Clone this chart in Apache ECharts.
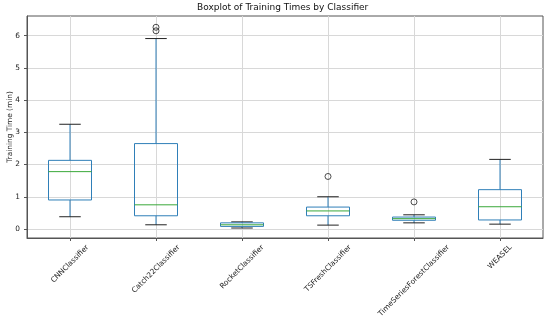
<!DOCTYPE html>
<html><head><meta charset="utf-8">
<script src="https://cdn.jsdelivr.net/npm/echarts@6/dist/echarts.min.js"></script>
<style>html,body{margin:0;padding:0;background:#fff}#c{width:550px;height:322px}</style>
</head><body><div id="c"></div>
<script>
const categories = ['CNNClassifier','Catch22Classifier','RocketClassifier','TSFreshClassifier','TimeSeriesForestClassifier','WEASEL'];
const whiskerLow  = [0.38, 0.13, 0.03, 0.12, 0.19, 0.15];
const q1          = [0.90, 0.41, 0.08, 0.41, 0.27, 0.28];
const median      = [1.78, 0.75, 0.13, 0.56, 0.32, 0.69];
const q3          = [2.13, 2.65, 0.19, 0.68, 0.37, 1.22];
const whiskerHigh = [3.25, 5.91, 0.22, 1.00, 0.44, 2.16];
const outliers = [['Catch22Classifier', 6.26], ['Catch22Classifier', 6.15], ['TSFreshClassifier', 1.63], ['TimeSeriesForestClassifier', 0.84]];
const yTicks = [0, 1, 2, 3, 4, 5, 6];

const FONT = 'DejaVu Sans';
const LFS = 7.4;
const ctx = document.createElement('canvas').getContext('2d');
ctx.font = LFS + 'px "' + FONT + '"';
const catData = categories.map(name => {
  const L = ctx.measureText(name).width;
  return { value: name, textStyle: { padding: [0, -L / 4, 0, 0], lineHeight: L / 2 } };
});

const boxData = categories.map((c, i) => [i, whiskerLow[i], q1[i], median[i], q3[i], whiskerHigh[i]]);

const chart = echarts.init(document.getElementById('c'), null, { renderer: 'canvas' });
chart.setOption({
  animation: false,
  backgroundColor: '#fff',
  title: {
    text: 'Boxplot of Training Times by Classifier',
    left: 197, top: 3, padding: 0,
    textStyle: { fontFamily: FONT, fontSize: 9, fontWeight: 'normal', color: '#111' }
  },
  grid: { left: 27, right: 7, top: 16, bottom: 84, show: true, borderColor: '#555', borderWidth: 1, backgroundColor: 'transparent', containLabel: false, outerBoundsMode: 'none' },
  xAxis: {
    type: 'category',
    data: catData,
    boundaryGap: true,
    axisLine: { show: true, onZero: false, lineStyle: { color: '#555', width: 1 } },
    axisTick: { show: true, alignWithLabel: true, length: 3, lineStyle: { color: '#555' } },
    axisLabel: {
      interval: 0, rotate: 45, margin: 8.3, align: 'right', verticalAlign: 'middle',
      formatter: v => '\n' + v,
      fontFamily: FONT, fontSize: LFS, color: '#222'
    },
    splitLine: { show: true, alignWithLabel: true, lineStyle: { color: '#d8d8d8', width: 1 } }
  },
  yAxis: {
    type: 'value',
    min: -0.28, max: 6.61,
    name: 'Training Time (min)',
    nameLocation: 'middle', nameGap: 13, nameMoveOverlap: false,
    nameTextStyle: { fontFamily: FONT, fontSize: LFS, color: '#222' },
    axisLine: { show: true, lineStyle: { color: '#555', width: 1 } },
    axisTick: { show: true, length: 3, customValues: yTicks, lineStyle: { color: '#555' } },
    axisLabel: { customValues: yTicks, margin: 7, fontFamily: FONT, fontSize: LFS, color: '#222' },
    splitLine: { show: true, lineStyle: { color: '#d8d8d8', width: 1 } }
  },
  series: [
    {
      type: 'custom',
      data: boxData,
      encode: { x: 0, y: [1, 2, 3, 4, 5] },
      z: 3,
      renderItem(params, api) {
        const i = api.value(0);
        const bw = api.size([1, 0])[0];
        const hb = bw * 0.25, hc = bw * 0.125;
        const pLo = api.coord([i, api.value(1)]);
        const pQ1 = api.coord([i, api.value(2)]);
        const pMed = api.coord([i, api.value(3)]);
        const pQ3 = api.coord([i, api.value(4)]);
        const pHi = api.coord([i, api.value(5)]);
        const x = pQ1[0];
        const blue = '#2f7fb8', black = '#222', green = '#3aa83a';
        return {
          type: 'group',
          children: [
            { type: 'line', shape: { x1: x, y1: pQ3[1], x2: x, y2: pHi[1] }, style: { stroke: blue, lineWidth: 1 } },
            { type: 'line', shape: { x1: x, y1: pQ1[1], x2: x, y2: pLo[1] }, style: { stroke: blue, lineWidth: 1 } },
            { type: 'line', shape: { x1: x - hc, y1: pHi[1], x2: x + hc, y2: pHi[1] }, style: { stroke: black, lineWidth: 1 } },
            { type: 'line', shape: { x1: x - hc, y1: pLo[1], x2: x + hc, y2: pLo[1] }, style: { stroke: black, lineWidth: 1 } },
            { type: 'rect', shape: { x: x - hb, y: pQ3[1], width: 2 * hb, height: pQ1[1] - pQ3[1] }, style: { stroke: blue, fill: null, lineWidth: 1 } },
            { type: 'line', shape: { x1: x - hb, y1: pMed[1], x2: x + hb, y2: pMed[1] }, style: { stroke: green, lineWidth: 1 } }
          ]
        };
      }
    },
    {
      type: 'scatter',
      data: outliers,
      symbol: 'circle',
      symbolSize: 6,
      z: 4,
      itemStyle: { color: 'transparent', borderColor: '#222', borderWidth: 1 }
    }
  ]
});
</script>
</body></html>
